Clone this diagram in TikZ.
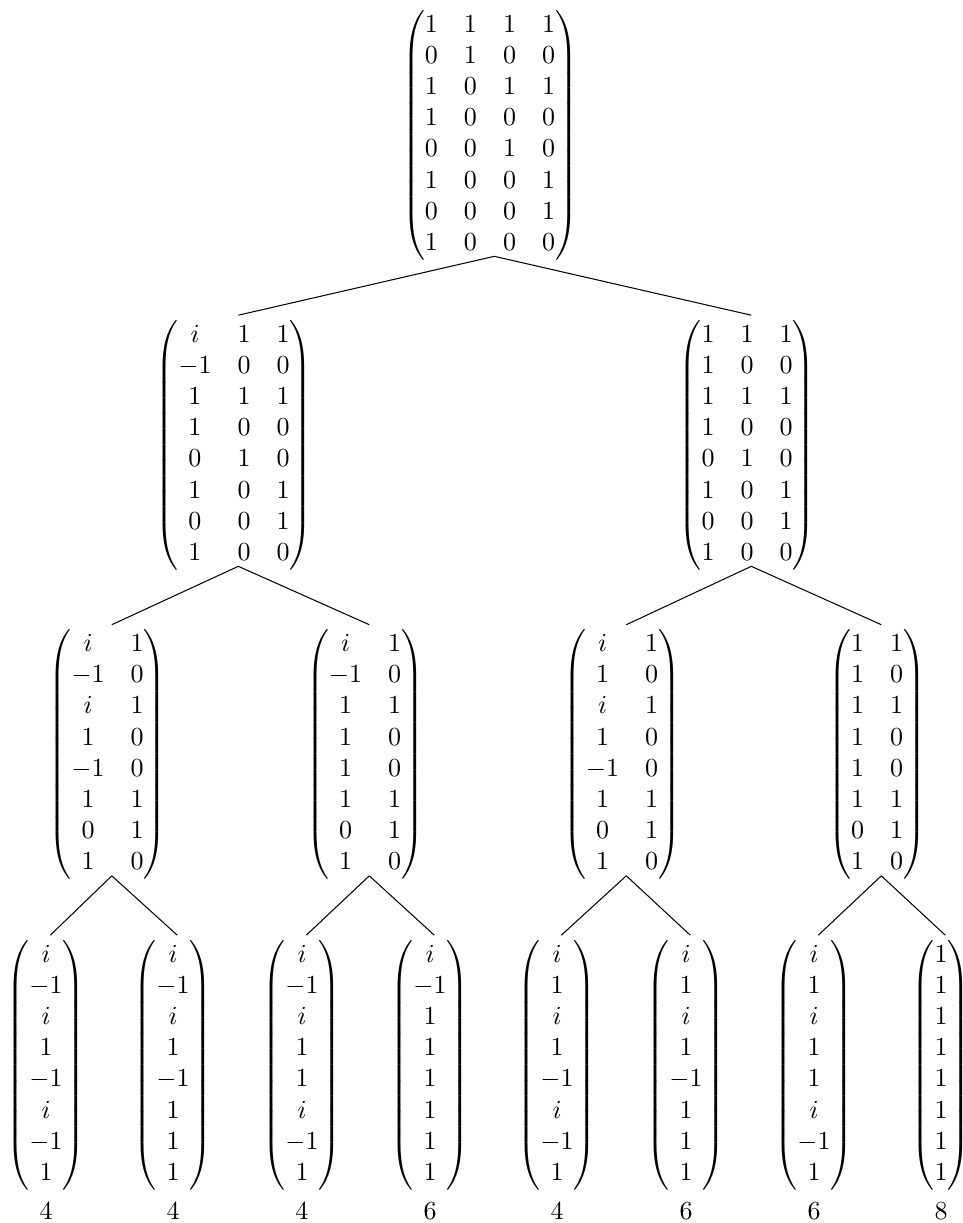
\documentclass[tikz,border=0pt]{standalone}
\usepackage{amsmath}
\tikzset{
  mat/.style={inner sep=0pt, outer sep=0pt},
  lbl/.style={inner sep=0pt, anchor=base},
  branch/.style={line width=0.4pt, black}
}
\newcommand{\treeedge}[2]{\draw[branch] ([shift={(4.3,-3.5)}]#1.south) -- ([shift={(4.3,-5)}]#2.north);}
\begin{document}
\begin{tikzpicture}[x=0.3846pt, y=-0.3846pt]
\useasboundingbox (0,0) rectangle (963,1223);
% level 1
\node[mat] (r) at (490,135) {$\begin{pmatrix}1&1&1&1\\0&1&0&0\\1&0&1&1\\1&0&0&0\\0&0&1&0\\1&0&0&1\\0&0&0&1\\1&0&0&0\end{pmatrix}$};
% level 2
\node[mat] (a) at (234,445) {$\begin{pmatrix}i&1&1\\-1&0&0\\1&1&1\\1&0&0\\0&1&0\\1&0&1\\0&0&1\\1&0&0\end{pmatrix}$};
\node[mat] (b) at (747,445) {$\begin{pmatrix}1&1&1\\1&0&0\\1&1&1\\1&0&0\\0&1&0\\1&0&1\\0&0&1\\1&0&0\end{pmatrix}$};
% level 3
\node[mat] (aa) at (107.5,754.5) {$\begin{pmatrix}i&1\\-1&0\\i&1\\1&0\\-1&0\\1&1\\0&1\\1&0\end{pmatrix}$};
\node[mat] (ab) at (365,754.5) {$\begin{pmatrix}i&1\\-1&0\\1&1\\1&0\\1&0\\1&1\\0&1\\1&0\end{pmatrix}$};
\node[mat] (ba) at (622,754.5) {$\begin{pmatrix}i&1\\1&0\\i&1\\1&0\\-1&0\\1&1\\0&1\\1&0\end{pmatrix}$};
\node[mat] (bb) at (877,754.5) {$\begin{pmatrix}1&1\\1&0\\1&1\\1&0\\1&0\\1&1\\0&1\\1&0\end{pmatrix}$};
% leaves
\node[mat] (aaa) at (46,1065) {$\begin{pmatrix}i\\-1\\i\\1\\-1\\i\\-1\\1\end{pmatrix}$};
\node[mat] (aab) at (173,1065) {$\begin{pmatrix}i\\-1\\i\\1\\-1\\1\\1\\1\end{pmatrix}$};
\node[mat] (aba) at (302,1065) {$\begin{pmatrix}i\\-1\\i\\1\\1\\i\\-1\\1\end{pmatrix}$};
\node[mat] (abb) at (430,1065) {$\begin{pmatrix}i\\-1\\1\\1\\1\\1\\1\\1\end{pmatrix}$};
\node[mat] (baa) at (557,1065) {$\begin{pmatrix}i\\1\\i\\1\\-1\\i\\-1\\1\end{pmatrix}$};
\node[mat] (bab) at (686,1065) {$\begin{pmatrix}i\\1\\i\\1\\-1\\1\\1\\1\end{pmatrix}$};
\node[mat] (bba) at (814,1065) {$\begin{pmatrix}i\\1\\i\\1\\1\\i\\-1\\1\end{pmatrix}$};
\node[mat] (bbb) at (941,1065) {$\begin{pmatrix}1\\1\\1\\1\\1\\1\\1\\1\end{pmatrix}$};
% labels
\node[lbl] (laaa) at (46,1219) {$4$};
\node[lbl] (laab) at (173,1219) {$4$};
\node[lbl] (laba) at (302,1219) {$4$};
\node[lbl] (labb) at (430,1219) {$6$};
\node[lbl] (lbaa) at (557,1219) {$4$};
\node[lbl] (lbab) at (686,1219) {$6$};
\node[lbl] (lbba) at (814,1219) {$6$};
\node[lbl] (lbbb) at (941,1219) {$8$};
% edges
\treeedge{r}{a}\treeedge{r}{b}
\treeedge{a}{aa}\treeedge{a}{ab}
\treeedge{b}{ba}\treeedge{b}{bb}
\treeedge{aa}{aaa}\treeedge{aa}{aab}
\treeedge{ab}{aba}\treeedge{ab}{abb}
\treeedge{ba}{baa}\treeedge{ba}{bab}
\treeedge{bb}{bba}\treeedge{bb}{bbb}
\end{tikzpicture}
\end{document}
